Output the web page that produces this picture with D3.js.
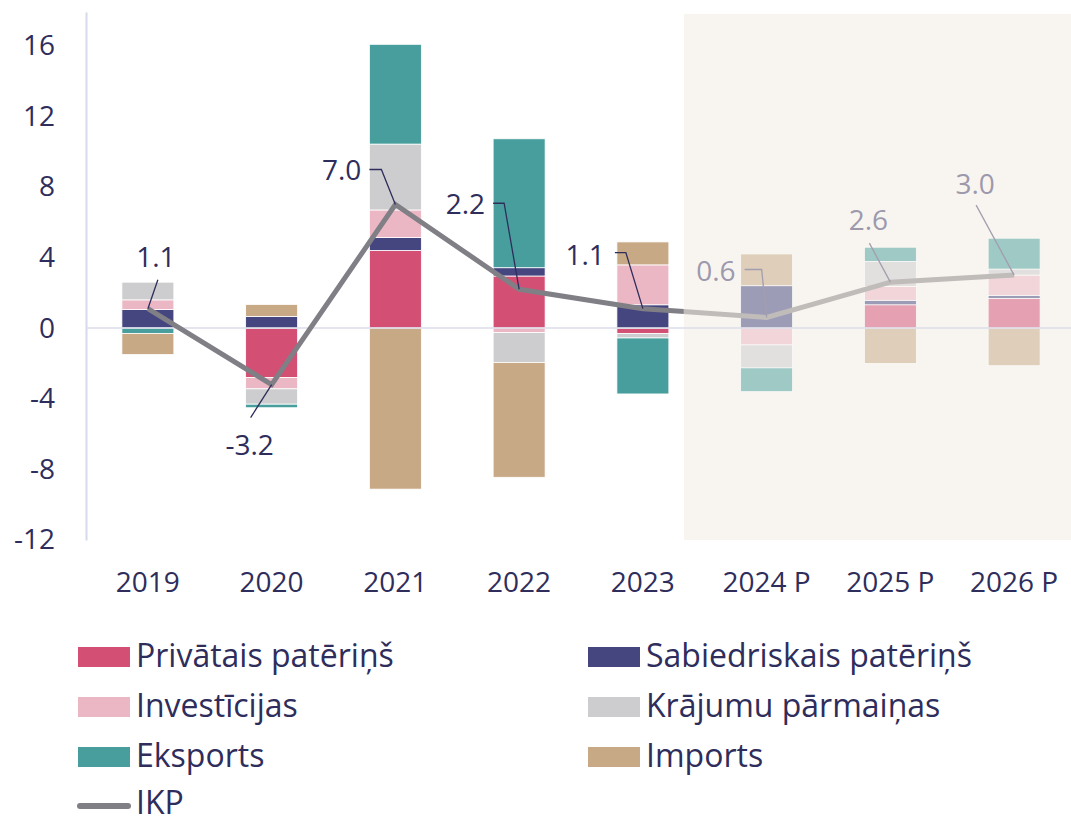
<!DOCTYPE html>
<html>
<head>
<meta charset="utf-8">
<script src="https://cdn.jsdelivr.net/npm/d3@7"></script>
<style>
  body { margin: 0; background: #fff; }
  text { font-family: "Open Sans", sans-serif; }
</style>
</head>
<body>
<div class="container"></div>
<script>
// categories and contributions (percentage points)
var years = ["2019", "2020", "2021", "2022", "2023", "2024 P", "2025 P", "2026 P"];
var forecastFrom = 5; // index of first forecast year

var privatais   = [0,     -2.8,  4.4,  2.95, -0.3,  0,     1.32, 1.68];
var sabiedr     = [1.05,  0.66,  0.73, 0.47, 1.32,  2.4,   0.25, 0.17];
var investicijas= [0.55, -0.64,  1.56, -0.25, 2.26, -0.95, 0.79, 1.15];
var krajumi     = [1.0,  -0.87,  3.73, -1.7, -0.26, -1.3,  1.41, 0.34];
var eksports    = [-0.3, -0.2,   5.65, 7.3, -3.17, -1.35,  0.81, 1.75];
var imports     = [-1.2,  0.68, -9.12, -6.5, 1.3,   1.8,  -2.0, -2.13];
var ikp         = [1.1,  -3.2,   7.0,  2.2,  1.1,   0.6,   2.6,  3.0];

var seriesNames = ["Privātais patēriņš", "Sabiedriskais patēriņš", "Investīcijas",
                   "Krājumu pārmaiņas", "Eksports", "Imports"];
var seriesColors = ["#d34f73", "#454680", "#ecb7c4", "#cdcdcf", "#489e9c", "#c8a985"];
var yTicks = [-12, -8, -4, 0, 4, 8, 12, 16];

// label placement for IKP values: leader path offsets and text anchor
var labelLayout = [
  {path: [[10, -29]], tx: 8, ty: -42, anchor: "middle"},
  {path: [[-21, 33]], tx: -22, ty: 70, anchor: "middle"},
  {path: [[-14, -35], [-26, -35]], tx: -34, ty: -24, anchor: "end"},
  {path: [[-15, -86], [-26, -86]], tx: -34, ty: -75, anchor: "end"},
  {path: [[-17, -56], [-28, -56]], tx: -38, ty: -44, anchor: "end"},
  {path: [[-5, -48], [-22, -48]], tx: -31, ty: -36, anchor: "end"},
  {path: [[-21, -39]], tx: -22, ty: -52, anchor: "middle"},
  {path: [[-38, -70]], tx: -39, ty: -81, anchor: "middle"}
];

var textColor = "#2e2d5b";
var fadedText = "#9d99ad";
var width = 1071, height = 817;

// plain hyphen for negatives, like the original
function fmt(spec) {
  var f = d3.format(spec);
  return function(v) { return f(v).replace("\u2212", "-"); };
}

var svg = d3.select(".container").append("svg")
    .attr("width", width)
    .attr("height", height);

var x = d3.scaleBand().domain(years).range([86, 1076])
    .paddingInner(0.58).paddingOuter(0.29);
var y = d3.scaleLinear().domain([-12, 17.9]).range([540, 12]);

var keys = d3.range(seriesNames.length);
var table = years.map(function(yr, i) {
  return {year: yr, i: i, values: [privatais[i], sabiedr[i], investicijas[i], krajumi[i], eksports[i], imports[i]]};
});
var stack = d3.stack()
    .keys(keys)
    .value(function(d, k) { return d.values[k]; })
    .offset(d3.stackOffsetDiverging);
var stacked = stack(table);

// forecast shading
var shadeX = x(years[forecastFrom - 1]) + x.bandwidth() + 15;
svg.append("rect")
    .attr("x", shadeX)
    .attr("y", 14)
    .attr("width", width - shadeX)
    .attr("height", y(-12) - 14)
    .attr("fill", "#f8f5f0");

// y axis
var yAxis = svg.append("g")
    .attr("transform", "translate(86,0)")
    .call(d3.axisLeft(y).tickValues(yTicks).tickFormat(fmt("d")).tickSize(0).tickPadding(31));
yAxis.select(".domain").attr("stroke", "#d4d9ec").attr("stroke-width", 2);
yAxis.selectAll("text")
    .attr("fill", textColor)
    .style("font-size", "28px")
    .style("font-family", "'Open Sans', sans-serif");

// bars
svg.append("g").selectAll("g")
  .data(stacked)
  .join("g")
    .attr("fill", function(d) { return seriesColors[d.key]; })
  .selectAll("rect")
  .data(function(d) { return d; })
  .join("rect")
    .attr("x", function(d) { return x(d.data.year); })
    .attr("y", function(d) { return y(Math.max(d[0], d[1])); })
    .attr("width", x.bandwidth())
    .attr("height", function(d) { return Math.abs(y(d[0]) - y(d[1])); })
    .attr("opacity", function(d) { return d.data.i >= forecastFrom ? 0.5 : 1; })
    .attr("stroke", "#fff")
    .attr("stroke-width", 0.8);

// zero line
svg.append("line")
    .attr("x1", 86).attr("x2", width)
    .attr("y1", y(0)).attr("y2", y(0))
    .attr("stroke", "#dcdcea")
    .attr("stroke-width", 1.5);

// x labels
svg.append("g")
    .attr("transform", "translate(0," + 592 + ")")
  .selectAll("text")
  .data(years)
  .join("text")
    .attr("x", function(d) { return x(d) + x.bandwidth() / 2; })
    .attr("text-anchor", "middle")
    .attr("fill", textColor)
    .style("font-size", "28px")
    .text(function(d) { return d; });

// IKP line, dark before forecast, light after
var line = d3.line()
    .x(function(d, i) { return x(years[i]) + x.bandwidth() / 2; })
    .y(function(d) { return y(d); });

var defs = svg.append("defs");
defs.append("clipPath").attr("id", "clipHist")
  .append("rect").attr("x", 0).attr("y", 0).attr("width", shadeX).attr("height", height);
defs.append("clipPath").attr("id", "clipFc")
  .append("rect").attr("x", shadeX).attr("y", 0).attr("width", width - shadeX).attr("height", height);

svg.append("path")
    .datum(ikp)
    .attr("d", line)
    .attr("fill", "none")
    .attr("stroke", "#807f85")
    .attr("stroke-width", 5)
    .attr("clip-path", "url(#clipHist)");
svg.append("path")
    .datum(ikp)
    .attr("d", line)
    .attr("fill", "none")
    .attr("stroke", "#c0bcba")
    .attr("stroke-width", 5)
    .attr("clip-path", "url(#clipFc)");

// value labels with leaders
var lbl = svg.append("g").selectAll("g")
  .data(ikp)
  .join("g")
    .attr("transform", function(d, i) {
      return "translate(" + (x(years[i]) + x.bandwidth() / 2) + "," + y(d) + ")";
    });
lbl.append("path")
    .attr("d", function(d, i) {
      return "M0,0" + labelLayout[i].path.map(function(p) { return "L" + p[0] + "," + p[1]; }).join("");
    })
    .attr("fill", "none")
    .attr("stroke", function(d, i) { return i >= forecastFrom ? "#a29eaf" : textColor; })
    .attr("stroke-width", 1.3);
lbl.append("text")
    .attr("x", function(d, i) { return labelLayout[i].tx; })
    .attr("y", function(d, i) { return labelLayout[i].ty; })
    .attr("text-anchor", function(d, i) { return labelLayout[i].anchor; })
    .attr("fill", function(d, i) { return i >= forecastFrom ? fadedText : textColor; })
    .style("font-size", "28px")
    .text(fmt(".1f"));

// legend
var legend = svg.append("g");
var legItems = legend.selectAll("g")
  .data(seriesNames)
  .join("g")
    .attr("transform", function(d, i) {
      return "translate(" + (i % 2 === 0 ? 78 : 588) + "," + (647 + Math.floor(i / 2) * 50) + ")";
    });
legItems.append("rect")
    .attr("width", 52).attr("height", 20)
    .attr("fill", function(d, i) { return seriesColors[i]; });
legItems.append("text")
    .attr("x", 58).attr("y", 20)
    .attr("fill", textColor)
    .style("font-size", "32px")
    .text(function(d) { return d; });

var ikpLeg = legend.append("g").attr("transform", "translate(78,794)");
ikpLeg.append("line")
    .attr("x1", 2).attr("x2", 50)
    .attr("y1", 12).attr("y2", 12)
    .attr("stroke", "#807f85")
    .attr("stroke-width", 6)
    .attr("stroke-linecap", "round");
ikpLeg.append("text")
    .attr("x", 58).attr("y", 20)
    .attr("fill", textColor)
    .style("font-size", "32px")
    .text("IKP");
</script>
</body>
</html>
